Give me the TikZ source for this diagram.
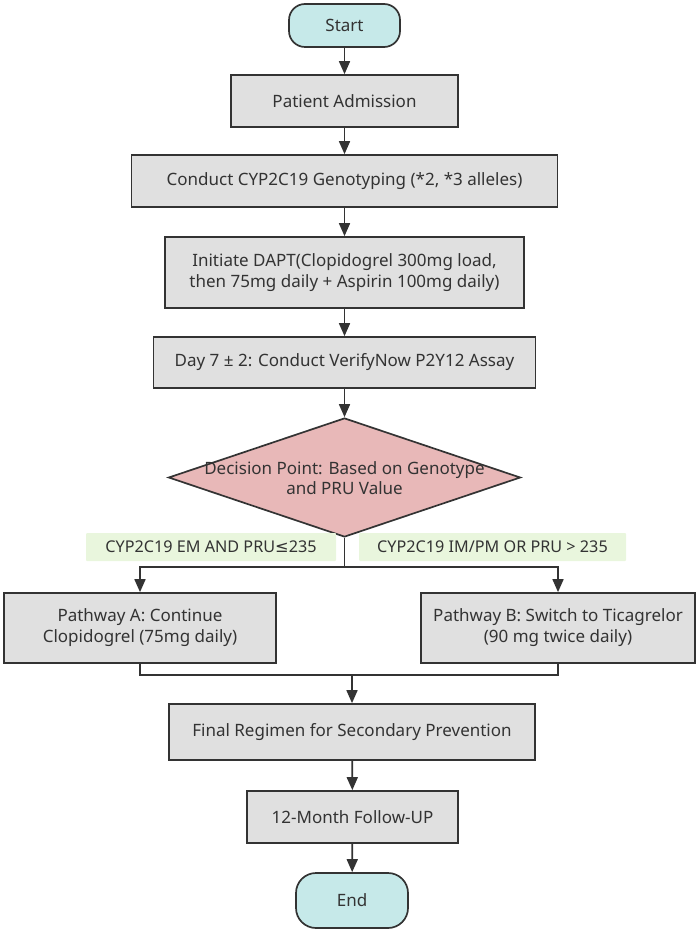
\documentclass[tikz,border=0pt]{standalone}
\usepackage{fontspec}
\setmainfont{Noto Sans}
\newfontfamily\symfont{DejaVu Sans}
\usetikzlibrary{arrows.meta,shapes.geometric}
\definecolor{boxfill}{HTML}{E0E0E0}
\definecolor{edge}{HTML}{333333}
\definecolor{termfill}{HTML}{C6E9E9}
\definecolor{decfill}{HTML}{E8B8B8}
\definecolor{labfill}{HTML}{E9F6DD}
\tikzset{
  base/.style={draw=edge, line width=1.7pt, text=edge, font=\fontsize{17}{21}\selectfont, inner sep=0pt, align=center},
  procbox/.style={base, rectangle, fill=boxfill},
  termbox/.style={base, rectangle, rounded corners=16pt, fill=termfill},
  decbox/.style={base, diamond, fill=decfill},
  condlabel/.style={rectangle, fill=labfill, text=edge, inner sep=0pt, rounded corners=1pt, font=\fontsize{16.2}{19}\selectfont},
  conn/.style={draw=edge, line width=1.7pt},
  arr/.style={conn, -{Triangle[width=11pt,length=13pt]}}
}
\begin{document}
\begin{tikzpicture}[x=1pt,y=-1pt]
\useasboundingbox (0,0) rectangle (700,933);
\node[termbox, minimum width=111pt, minimum height=43pt] (start) at (344.5,25.5) {Start};
\node[procbox, minimum width=227pt, minimum height=52pt] (adm) at (344.5,101) {Patient Admission};
\node[procbox, minimum width=426pt, minimum height=52pt] (geno) at (344.5,181) {Conduct CYP2C19 Genotyping (*2, *3 alleles)};
\node[procbox, minimum width=359pt, minimum height=71pt] (dapt) at (344.5,272.5) {Initiate DAPT(Clopidogrel 300mg load,\\then 75mg daily + Aspirin 100mg daily)};
\node[procbox, minimum width=382pt, minimum height=51pt] (day) at (344.5,362.5) {Day 7 \char"00B1{} 2: Conduct VerifyNow P2Y12 Assay};
\node[decbox, minimum width=352pt, minimum height=119pt] (dec) at (344.5,477.5) {\smash{\makebox[0pt]{\raisebox{-7pt}{\begin{tabular}{@{}c@{}}Decision Point: Based on Genotype\\[-1pt]and PRU Value\end{tabular}}}}};
\node[condlabel, minimum width=250pt, minimum height=28pt] (laba) at (211,547) {CYP2C19 EM AND PRU{\symfont\char"2264}235};
\node[condlabel, minimum width=267pt, minimum height=28pt] (labb) at (492.5,547) {CYP2C19 IM/PM OR PRU > 235};
\node[procbox, minimum width=272pt, minimum height=70pt] (pa) at (140,628) {Pathway A: Continue\\Clopidogrel (75mg daily)};
\node[procbox, minimum width=274pt, minimum height=70pt] (pb) at (558,628) {Pathway B: Switch to Ticagrelor\\(90 mg twice daily)};
\node[procbox, minimum width=366pt, minimum height=56pt] (fin) at (352,732) {Final Regimen for Secondary Prevention};
\node[procbox, minimum width=211pt, minimum height=52pt] (fu) at (352.5,817) {12-Month Follow-UP};
\node[termbox, minimum width=112pt, minimum height=55pt, rounded corners=20pt] (end) at (352,900.5) {End};
\coordinate (split) at (344.5,567);
\coordinate (merge) at (352,675);
\draw[arr] (start) -- (adm);
\draw[arr] (adm) -- (geno);
\draw[arr] (geno) -- (dapt);
\draw[arr] (dapt) -- (day);
\draw[arr] (day) -- (dec.north);
\draw[conn] (dec.south) -- (split);
\draw[arr] (split) -| (pa.north);
\draw[arr] (split) -| (pb.north);
\draw[conn] (pa.south) |- (merge);
\draw[conn] (pb.south) |- (merge);
\draw[arr] (merge) -- (fin.north);
\draw[arr] (fin) -- (fu);
\draw[arr] (fu) -- (end);
\end{tikzpicture}
\end{document}
